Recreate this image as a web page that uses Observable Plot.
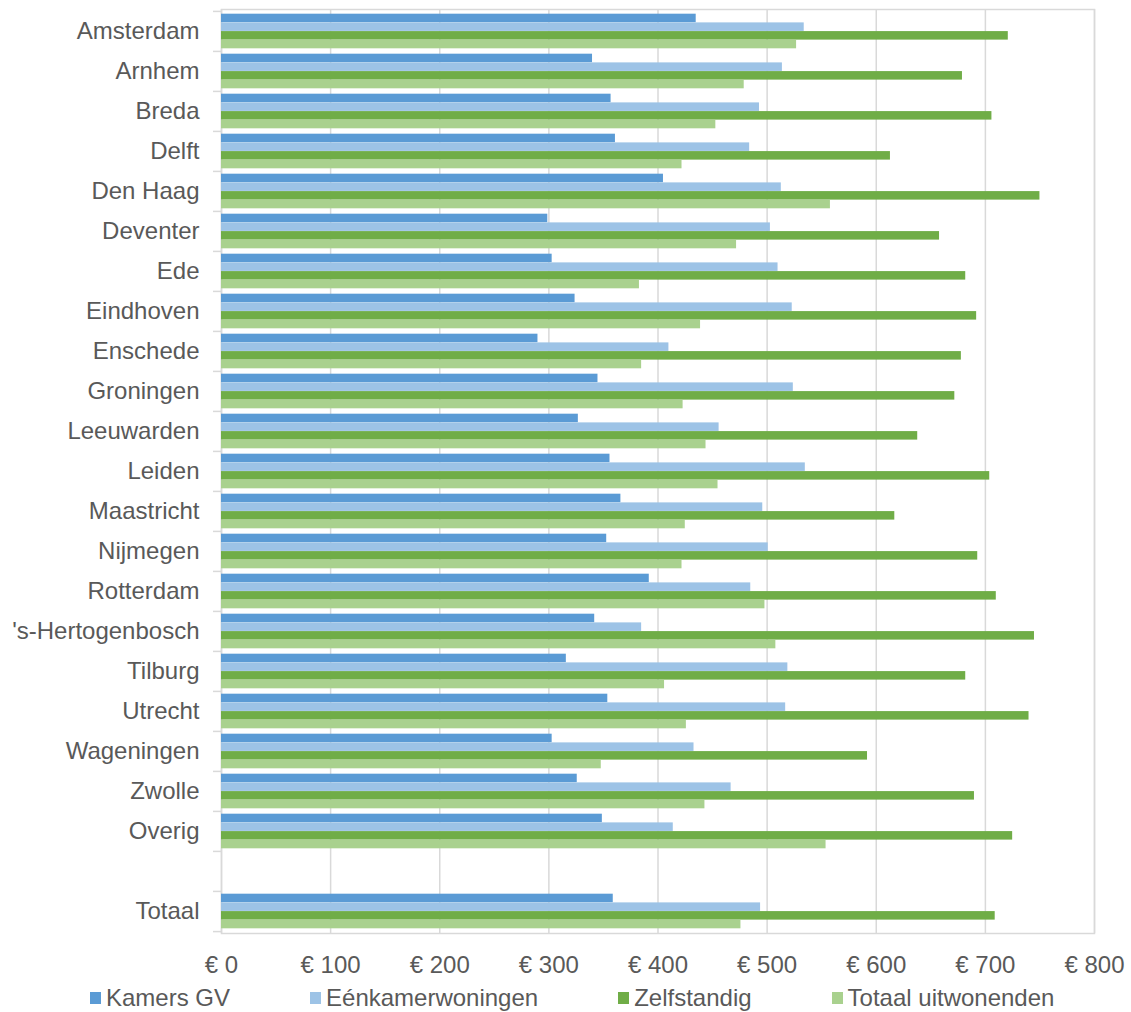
<!DOCTYPE html>
<html><head><meta charset="utf-8">
<script src="https://cdn.jsdelivr.net/npm/d3@7"></script>
<script src="https://cdn.jsdelivr.net/npm/@observablehq/plot@0.6"></script>
<style>
body{margin:0;background:#fff;font-family:"Liberation Sans",Arial,sans-serif;}
#legend{display:flex;gap:80px;padding-left:90px;height:28px;align-items:center;font-size:24px;color:#595959;white-space:nowrap;}
.item{display:flex;align-items:center;}
.sw{width:11px;height:12px;margin-right:5px;}
</style></head><body><div id="chart"></div><div id="legend"></div>
<script>
const categories = ["Amsterdam","Arnhem","Breda","Delft","Den Haag","Deventer","Ede","Eindhoven","Enschede","Groningen","Leeuwarden","Leiden","Maastricht","Nijmegen","Rotterdam","'s-Hertogenbosch","Tilburg","Utrecht","Wageningen","Zwolle","Overig","","Totaal"];
const seriesNames = ["Kamers GV","Eénkamerwoningen","Zelfstandig","Totaal uitwonenden"];
const kamersGV = [435,340,357,361,405,299,303,324,290,345,327,356,366,353,392,342,316,354,303,326,349,null,359];
const eenkamer = [534,514,493,484,513,503,510,523,410,524,456,535,496,501,485,385,519,517,433,467,414,null,494];
const zelfstandig = [721,679,706,613,750,658,682,692,678,672,638,704,617,693,710,745,682,740,592,690,725,null,709];
const totaalUitw = [527,479,453,422,558,472,383,439,385,423,444,455,425,422,498,508,406,426,348,443,554,null,476];
const seriesValues = [kamersGV, eenkamer, zelfstandig, totaalUitw];
const colors = ["#5B9BD5","#9DC3E6","#70AD47","#A9D18E"];
const xTicks = [0,100,200,300,400,500,600,700,800];

const W = 1131, H = 984, mTop = 9, mBottom = 51, mLeft = 221, mRight = 37;
const step = (H - mTop - mBottom) / categories.length;
const barH = 8.7;
const pad = (step - 4 * barH) / 2;

const rows = [];
categories.forEach((c, i) => {
  seriesNames.forEach((s, j) => {
    const v = seriesValues[j][i];
    if (v != null) rows.push({city: c, series: s, value: v});
  });
});

const gray = "#d9d9d9";
const chart = Plot.plot({
  width: W, height: H,
  marginTop: mTop, marginBottom: mBottom, marginLeft: mLeft, marginRight: mRight,
  style: {fontFamily: '"Liberation Sans", Arial, sans-serif', fontSize: "24px", color: "#595959", background: "#fff"},
  x: {domain: [0, 800], label: null},
  y: {type: "band", domain: categories, padding: 0, label: null},
  marks: [
    Plot.gridX(xTicks, {stroke: gray, strokeOpacity: 1, strokeWidth: 1.5}),
    Plot.frame({stroke: gray, strokeWidth: 1.5}),
    ...seriesNames.map((s, j) => Plot.barX(rows.filter(r => r.series === s), {
      x: "value", y: "city", fill: colors[j],
      insetTop: pad + j * barH, insetBottom: pad + (3 - j) * barH
    })),
    Plot.axisY({tickSize: 0, tickPadding: 22, tickFormat: d => d, fontSize: 24, label: null}),
    Plot.axisY({tickSize: 8, dy: -step / 2, tickFormat: () => "", stroke: gray, strokeWidth: 1.5, label: null}),
    Plot.axisY({ticks: [categories[categories.length - 1]], tickSize: 8, dy: step / 2, tickFormat: () => "", stroke: gray, strokeWidth: 1.5, label: null}),
    Plot.axisX({ticks: xTicks, tickSize: 0, tickPadding: 22, tickFormat: d => `€ ${d}`, fontSize: 24, label: null})
  ]
});
document.getElementById("chart").appendChild(chart);

const legend = document.getElementById("legend");
seriesNames.forEach((s, j) => {
  const it = document.createElement("div");
  it.className = "item";
  const sw = document.createElement("span");
  sw.className = "sw";
  sw.style.background = colors[j];
  const t = document.createElement("span");
  t.textContent = s;
  it.appendChild(sw); it.appendChild(t);
  legend.appendChild(it);
});
</script>
</body></html>
